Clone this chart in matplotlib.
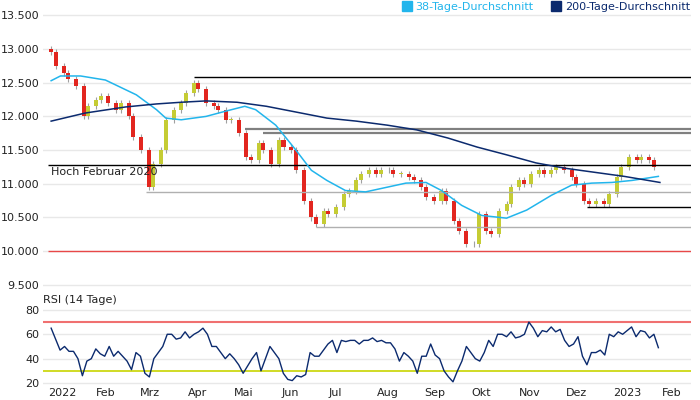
import matplotlib
matplotlib.use("Agg")
import matplotlib.pyplot as plt
import matplotlib.dates as mdates
from matplotlib.lines import Line2D
import pandas as pd
import numpy as np

plt.rcParams['font.family'] = ['DejaVu Sans']

closes = [12950, 12750, 12650, 12550, 12450, 12000, 12150, 12250, 12300, 12200, 12100, 12200, 12000, 11700,
          11500, 10950, 11300, 11500, 11950, 12100, 12200, 12350, 12500, 12400, 12200, 12150, 12100, 11950,
          11950, 11750, 11400, 11350, 11600, 11500, 11300, 11650, 11550, 11500, 11200, 10750, 10500, 10400,
          10600, 10550, 10650, 10850, 10900, 11050, 11150, 11200, 11150, 11200, 11200, 11150, 11150, 11100,
          11050, 10950, 10800, 10750, 10900, 10750, 10450, 10300, 10100, 10100, 10550, 10300, 10250, 10600,
          10700, 10950, 11050, 11000, 11150, 11200, 11150, 11200, 11250, 11200, 11100, 11000, 10750, 10700,
          10750, 10700, 10850, 11100, 11250, 11400, 11350, 11400, 11350, 11250]
first_open = 13000
dates = pd.bdate_range("2022-01-03", periods=len(closes), freq="3B")

ma38_dates = ["2022-01-03", "2022-01-09", "2022-01-22", "2022-02-07", "2022-02-27", "2022-03-12", "2022-03-18",
              "2022-03-28", "2022-04-13", "2022-04-26", "2022-05-08", "2022-05-15", "2022-05-28", "2022-06-10",
              "2022-06-20", "2022-06-30", "2022-07-12", "2022-07-25", "2022-08-04", "2022-08-20", "2022-09-02",
              "2022-09-12", "2022-09-25", "2022-10-08", "2022-10-24", "2022-11-06", "2022-11-22", "2022-12-05",
              "2022-12-18", "2022-12-31", "2023-01-13", "2023-01-30"]
ma38_vals = [12530, 12600, 12600, 12540, 12320, 12100, 11975, 11950, 12000, 12080, 12150, 12100, 11870, 11500,
             11200, 11050, 10900, 10880, 10930, 11010, 11020, 10900, 10680, 10530, 10490, 10610, 10830, 10980,
             11010, 11020, 11050, 11110]

ma200_dates = ["2022-01-03", "2022-01-25", "2022-02-20", "2022-03-12", "2022-03-28", "2022-04-13", "2022-05-03",
               "2022-05-22", "2022-06-10", "2022-06-30", "2022-07-19", "2022-08-08", "2022-08-27", "2022-09-16",
               "2022-10-05", "2022-10-24", "2022-11-12", "2022-12-01", "2022-12-20", "2023-01-08", "2023-01-31"]
ma200_vals = [11930, 12050, 12140, 12185, 12210, 12230, 12210, 12150, 12065, 11975, 11930, 11870, 11800, 11680,
              11545, 11430, 11310, 11230, 11170, 11110, 11020]

rsi_vals = [65, 56, 47, 50, 46, 46, 40, 26, 38, 40, 48, 44, 42, 50, 42, 46, 42, 38, 31, 45, 42, 28, 25, 40, 45,
            50, 60, 60, 56, 57, 62, 57, 60, 62, 65, 60, 50, 50, 45, 40, 44, 40, 35, 28, 34, 40, 45, 30, 40, 50,
            45, 40, 28, 23, 22, 26, 25, 27, 45, 42, 42, 47, 52, 55, 45, 55, 54, 55, 55, 52, 55, 55, 57, 54, 55,
            53, 53, 48, 38, 45, 42, 38, 28, 42, 42, 52, 43, 40, 30, 25, 21, 30, 38, 50, 45, 40, 38, 45, 55, 50,
            60, 60, 58, 62, 57, 58, 60, 70, 65, 58, 63, 62, 66, 62, 64, 55, 50, 52, 58, 42, 35, 45, 45, 47, 43,
            60, 58, 62, 60, 63, 66, 58, 63, 62, 57, 60, 49]
rsi_dates = pd.date_range("2022-01-03", "2023-01-30", periods=len(rsi_vals))

level_vals = [12585, 11810, 11750, 11280, 10880, 10360, 10660, 10000]
level_starts = ["2022-04-05", "2022-05-08", "2022-05-20", "2022-01-01", "2022-03-05", "2022-06-23", "2022-12-15", "2022-01-01"]
level_colors = ["black", "#808080", "#808080", "black", "#b0b0b0", "#b0b0b0", "black", "#e84848"]

months = ["2022", "Feb", "Mrz", "Apr", "Mai", "Jun", "Jul", "Aug", "Sep", "Okt", "Nov", "Dez", "2023", "Feb"]
month_starts = pd.date_range("2022-01-01", periods=14, freq="MS")

UP, DOWN, WICK = "#c5cc34", "#e2261f", "#a0a0a0"
C38, C200 = "#22b5ec", "#0b2a6e"

fig = plt.figure(figsize=(7, 4), dpi=100)
ax = fig.add_axes([0.062, 1 - 290 / 400, 0.925, 280 / 400])
ax2 = fig.add_axes([0.062, 1 - 385 / 400, 0.925, 80 / 400])
xmin, xmax = mdates.date2num(pd.Timestamp("2021-12-29")), mdates.date2num(pd.Timestamp("2023-02-20"))

opens = [first_open] + closes[:-1]
for d, o, c in zip(dates, opens, closes):
    x = mdates.date2num(d)
    lo, hi = min(o, c), max(o, c)
    ax.vlines(x, lo - 45, hi + 45, color=WICK, lw=0.8, zorder=2)
    ax.bar(x, max(hi - lo, 8), bottom=lo, width=2.6, color=UP if c >= o else DOWN, zorder=3, linewidth=0)

ax.plot(pd.to_datetime(ma38_dates), ma38_vals, color=C38, lw=1.1, zorder=4)
ax.plot(pd.to_datetime(ma200_dates), ma200_vals, color=C200, lw=1.1, zorder=4)

for v, s, col in zip(level_vals, level_starts, level_colors):
    lw = 1.6 if col == "#808080" else 1.0
    ax.hlines(v, mdates.date2num(pd.Timestamp(s)), xmax, color=col, lw=lw, zorder=3.5)
ax.text(mdates.date2num(pd.Timestamp("2022-01-03")), 11170, "Hoch Februar 2020", fontsize=8, va="center",
        color="#222222", zorder=5)

ax.set_ylim(9424, 13579)
ax.set_yticks([9500, 10000, 10500, 11000, 11500, 12000, 12500, 13000, 13500])
ax.set_yticklabels([f"{v:,}".replace(",", ".") for v in ax.get_yticks()])
ax.grid(axis="y", color="#e8e8e8", lw=1)
ax.set_axisbelow(True)
ax.set_xlim(xmin, xmax)
ax.set_xticks([])

ax2.plot(rsi_dates, rsi_vals, color=C200, lw=1.0, zorder=3)
ax2.axhline(70, color="#f07070", lw=1.5, zorder=2)
ax2.axhline(30, color="#c8d400", lw=1.2, zorder=2)
ax2.set_ylim(18.4, 84)
ax2.set_yticks([20, 40, 60, 80])
ax2.grid(axis="y", color="#e8e8e8", lw=1)
ax2.set_axisbelow(True)
ax2.set_xlim(xmin, xmax)
ax2.set_xticks(mdates.date2num(month_starts))
ax2.set_xticklabels(months)
for lab in ax2.get_xticklabels():
    lab.set_ha("left")
ax2.text(xmin, 84, "RSI (14 Tage)", fontsize=8, va="bottom", color="#222222")

for a in (ax, ax2):
    for sp in a.spines.values():
        sp.set_visible(False)
    a.tick_params(length=0, labelsize=8, colors="#222222", pad=2)
    a.tick_params(axis="y", pad=3)

handles = [Line2D([], [], marker="s", ls="", color=C38, markersize=7),
           Line2D([], [], marker="s", ls="", color=C200, markersize=7)]
leg = fig.legend(handles, ["38-Tage-Durchschnitt", "200-Tage-Durchschnitt"], loc="upper right",
                 bbox_to_anchor=(1.0, 1.02), ncol=2, frameon=False, fontsize=8, handletextpad=0.3,
                 columnspacing=1.5, handlelength=1)
for t, c in zip(leg.get_texts(), [C38, C200]):
    t.set_color(c)

fig.savefig("out.png", dpi=100)
